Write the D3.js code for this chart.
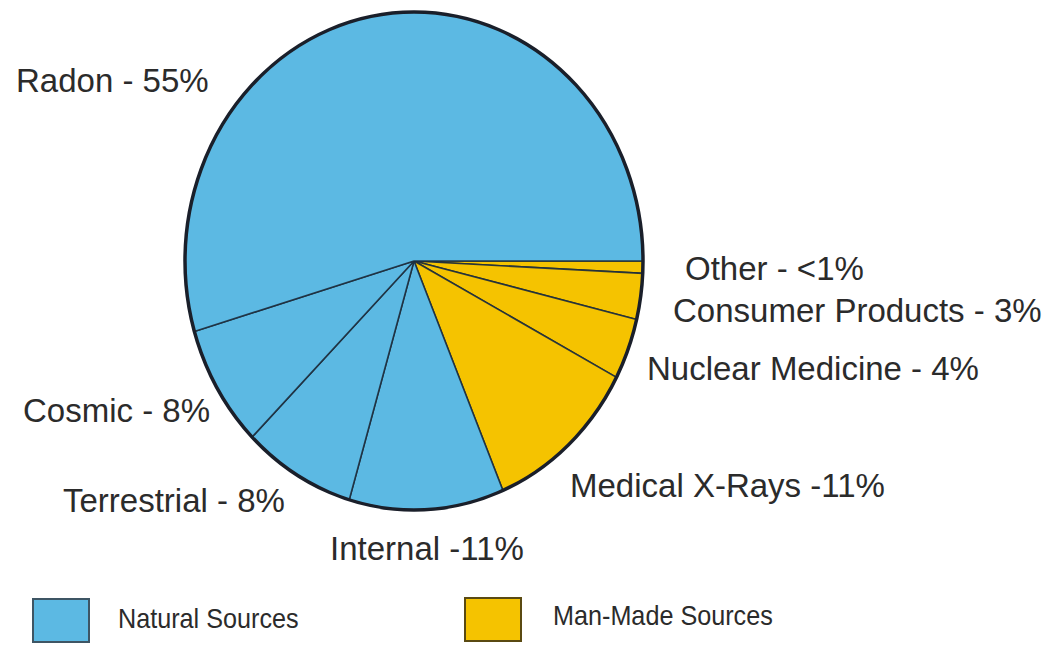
<!DOCTYPE html>
<html>
<head>
<meta charset="utf-8">
<script src="https://cdn.jsdelivr.net/npm/d3@7"></script>
<style>
  html, body { margin: 0; padding: 0; background: #ffffff; }
  svg { display: block; }
  text { font-family: "Liberation Sans", Arial, Helvetica, sans-serif; fill: #2b2b2b; }
</style>
</head>
<body>
<svg id="chart" width="1056" height="651"></svg>
<script>
// Sources of radiation exposure, listed clockwise from 3 o'clock
const sources = ["Other", "Consumer Products", "Nuclear Medicine", "Medical X-Rays",
                 "Internal", "Terrestrial", "Cosmic", "Radon"];
const shares  = [0.8, 3, 4, 11, 11, 8, 8, 55];
const labels  = ["Other - <1%", "Consumer Products - 3%", "Nuclear Medicine - 4%",
                 "Medical X-Rays -11%", "Internal -11%", "Terrestrial - 8%",
                 "Cosmic - 8%", "Radon - 55%"];
const groups  = ["Man-Made Sources", "Man-Made Sources", "Man-Made Sources", "Man-Made Sources",
                 "Natural Sources", "Natural Sources", "Natural Sources", "Natural Sources"];
const legendGroups = ["Natural Sources", "Man-Made Sources"];

const svg = d3.select("#chart");

const color = d3.scaleOrdinal()
  .domain(legendGroups)
  .range(["#5cb9e3", "#f5c300"]);

// Pie is drawn slightly taller than wide
const cx = 414, cy = 261, rx = 229, ry = 249;

const pie = d3.pie()
  .sort(null)
  .value(d => d.v)
  .startAngle(Math.PI / 2)
  .endAngle(Math.PI / 2 + 2 * Math.PI);

const data = sources.map((s, i) => ({ name: s, v: shares[i], group: groups[i] }));
const arcs = pie(data);

const arc = d3.arc().innerRadius(0).outerRadius(ry);

const pg = svg.append("g")
  .attr("transform", `translate(${cx},${cy}) scale(${rx / ry},1)`);

pg.selectAll("path.slice")
  .data(arcs)
  .enter().append("path")
  .attr("class", "slice")
  .attr("d", arc)
  .attr("fill", d => color(d.data.group))
  .attr("stroke", "#1d2c3c")
  .attr("stroke-opacity", 0.9)
  .attr("stroke-width", 1.6)
  .attr("stroke-linejoin", "round")
  .attr("vector-effect", "non-scaling-stroke");

// outer rim
pg.append("circle")
  .attr("r", ry)
  .attr("fill", "none")
  .attr("stroke", "#1a1f2a")
  .attr("stroke-width", 3.5)
  .attr("vector-effect", "non-scaling-stroke");

// Slice labels (x, baseline y)
const labelPos = {
  "Other": [685, 280],
  "Consumer Products": [673, 322],
  "Nuclear Medicine": [647, 380],
  "Medical X-Rays": [570, 497],
  "Internal": [330, 560],
  "Terrestrial": [63, 512],
  "Cosmic": [23, 422],
  "Radon": [16, 92]
};

svg.append("g").selectAll("text")
  .data(arcs)
  .enter().append("text")
  .attr("x", d => labelPos[d.data.name][0])
  .attr("y", d => labelPos[d.data.name][1])
  .attr("font-size", 33)
  .text((d, i) => labels[i]);

// Legend: swatch x, swatch y, text x, text baseline
const legendPos = {
  "Natural Sources": [33, 599, 118, 628],
  "Man-Made Sources": [465, 598, 553, 625]
};
const lg = svg.append("g").selectAll("g")
  .data(legendGroups)
  .enter().append("g");

lg.append("rect")
  .attr("x", d => legendPos[d][0])
  .attr("y", d => legendPos[d][1])
  .attr("width", 56)
  .attr("height", 43)
  .attr("fill", d => color(d))
  .attr("stroke", d => d === "Natural Sources" ? "#3e5564" : "#5a4a12")
  .attr("stroke-width", 2);

// legend captions use a condensed face
lg.append("text")
  .attr("transform", d => `translate(${legendPos[d][2]},${legendPos[d][3]}) scale(0.9,1)`)
  .attr("font-size", 28)
  .text(d => d);
</script>
</body>
</html>
